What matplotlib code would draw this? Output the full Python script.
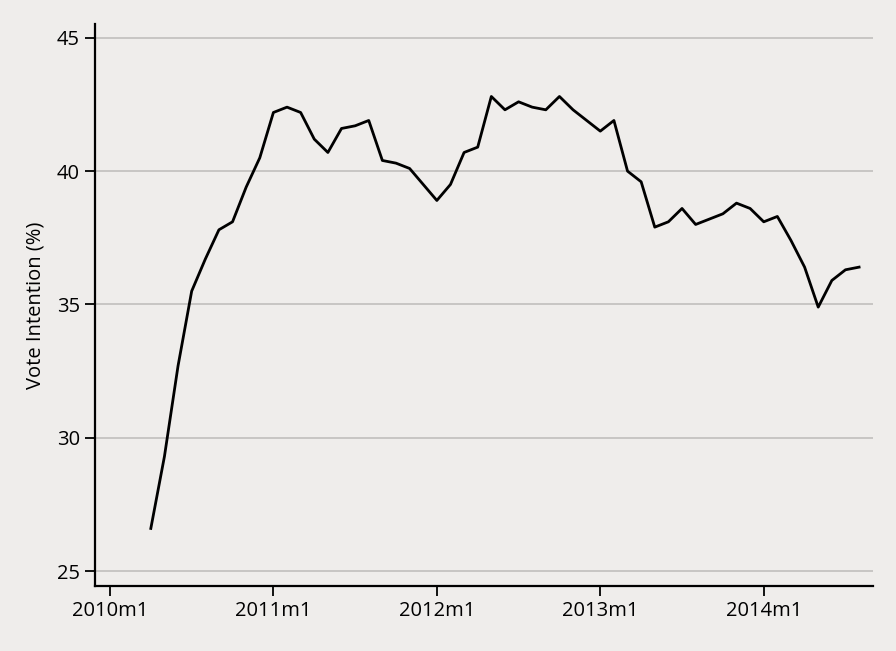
import matplotlib.pyplot as plt

# monthly series, 2010m4 .. 2014m8
start_month = 3  # months after 2010m1
vote = [26.6, 29.3, 32.7, 35.5, 36.7, 37.8, 38.1, 39.4, 40.5,
        42.2, 42.4, 42.2, 41.2, 40.7, 41.6, 41.7, 41.9, 40.4, 40.3, 40.1, 39.5,
        38.9, 39.5, 40.7, 40.9, 42.8, 42.3, 42.6, 42.4, 42.3, 42.8, 42.3, 41.9,
        41.5, 41.9, 40.0, 39.6, 37.9, 38.1, 38.6, 38.0, 38.2, 38.4, 38.8, 38.6,
        38.1, 38.3, 37.4, 36.4, 34.9, 35.9, 36.3, 36.4]
months = list(range(start_month, start_month + len(vote)))

xtick_pos = [0, 12, 24, 36, 48]
xtick_labels = ["2010m1", "2011m1", "2012m1", "2013m1", "2014m1"]
ytick_pos = [25, 30, 35, 40, 45]

bg = "#efedeb"
plt.rcParams["font.family"] = ["Open Sans", "DejaVu Sans"]

fig = plt.figure(figsize=(8.96, 6.51), dpi=100, facecolor=bg)
ax = fig.add_axes([0.106, 0.0998, 0.868, 0.863], facecolor=bg)

for y in ytick_pos:
    ax.axhline(y, color="#c4c2c0", lw=1.3, zorder=1)

ax.plot(months, vote, color="black", lw=2.0, zorder=3)

ax.set_xlim(-1.1, 56.0)
ax.set_ylim(24.44, 45.51)
ax.set_xticks(xtick_pos)
ax.set_xticklabels(xtick_labels)
ax.set_yticks(ytick_pos)
ax.tick_params(axis="both", direction="out", length=7, width=1.3,
               labelsize=14.5, colors="black", pad=4)
ax.set_ylabel("Vote Intention (%)", fontsize=14.5, labelpad=8)

for side in ["top", "right"]:
    ax.spines[side].set_visible(False)
for side in ["left", "bottom"]:
    ax.spines[side].set_linewidth(1.6)
    ax.spines[side].set_color("black")

plt.savefig("out.png", dpi=100, facecolor=bg)
